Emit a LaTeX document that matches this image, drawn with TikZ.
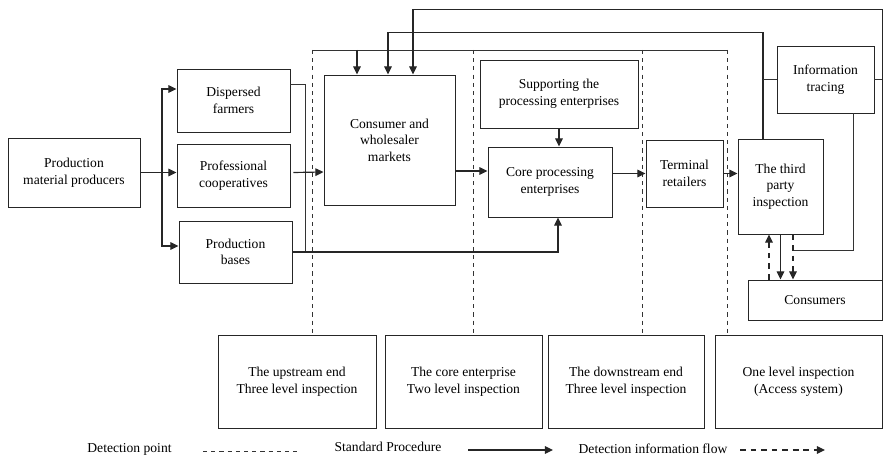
\documentclass[tikz,border=0pt]{standalone}
\usepackage{fontspec}
\setmainfont{Liberation Serif}
\usetikzlibrary{arrows.meta,calc}

\begin{document}
\begin{tikzpicture}[x=0.03cm, y=-0.03cm,
    font=\fontsize{11.6}{14.2}\selectfont,
    box/.style={draw=black!85, line width=0.8pt, align=center, inner sep=0pt},
    sz/.style 2 args={minimum width=#1*0.03cm, minimum height=#2*0.03cm},
    flow/.style={draw=black!85, line width=1pt, -{Triangle[length=7pt,width=6.5pt]}},
    link/.style={draw=black!80, line width=0.8pt},
    dpoint/.style={draw=black!80, line width=0.7pt, dash pattern=on 3.5pt off 3.5pt},
    dflow/.style={draw=black!85, line width=1pt, dash pattern=on 5pt off 4pt, -{Triangle[length=7pt,width=6.5pt]}}]
    \useasboundingbox (0,0) rectangle (883,456);

    % Upstream boxes
    \node[box, sz={132}{69}] (prod) at (74,172.5) {Production\\material producers};
    \node[box, sz={113}{63}] (farm) at (233.5,100.5) {Dispersed\\farmers};
    \node[box, sz={113}{63}] (coop) at (233.5,175.5) {Professional\\cooperatives};
    \node[box, sz={113}{62}] (base) at (235.5,252) {Production\\bases};

    % Enterprises and markets
    \node[box, sz={131}{130}] (market) at (389.5,140) {Consumer and\\wholesaler\\markets};
    \node[box, sz={158}{68}] (support) at (559,94) {Supporting the\\processing enterprises};
    \node[box, sz={124}{70}] (core) at (550,182) {Core processing\\enterprises};
    \node[box, sz={77}{67}] (retail) at (684.5,173.5) {Terminal\\retailers};
    \node[box, sz={85}{95}] (third) at (780.5,186.5) {The third\\party\\inspection};
    \node[box, sz={97}{67}] (trace) at (825.5,79.5) {Information\\tracing};
    \node[box, sz={134}{40}] (consumer) at (815,300) {Consumers};

    % Inspection levels
    \node[box, sz={158}{93}] (up) at (297,381.5) {The upstream end\\Three level inspection};
    \node[box, sz={157}{93}] (coreE) at (463.5,381.5) {The core enterprise\\Two level inspection};
    \node[box, sz={156}{93}] (down) at (626,381.5) {The downstream end\\Three level inspection};
    \node[box, sz={167}{93}] (one) at (798.5,381.5) {One level inspection\\(Access system)};

    % Detection points
    \coordinate (f1) at (312,50);
    \coordinate (f2) at (473,50);
    \coordinate (f3) at (642,50);
    \coordinate (f4) at (727,50);
    \draw[link] (f1) -- (f4);
    \foreach \i/\b in {1/up, 2/coreE, 3/down, 4/one}
        \draw[dpoint] (f\i) -- (f\i |- \b.north);

    % Standard procedure
    \coordinate (split) at (162,172.5);
    \draw[flow] (prod.east) -- (prod.east -| coop.west);
    \draw[flow] (split) |- ($(farm.west)+(0,-11.5)$);
    \draw[flow] (split) |- ($(base.west)+(0,-6)$);
    \coordinate (join) at (305,252);
    \draw[link] ($(farm.east)+(0,-16.5)$) -| (join);
    \draw[flow] (base.east) -- (join) -| ($(core.south)+(8,0)$);
    \draw[flow] ($(coop.east)+(3,-3)$) -- ($(market.west)+(0,32)$);
    \coordinate (m2c) at ($(core.west)+(0,-11)$);
    \draw[flow] (m2c -| market.east) -- (m2c);
    \draw[flow] (support.south) -- (support.south |- core.north);
    \draw[flow] (core.east |- retail.west) -- (retail.west);
    \draw[flow] (retail.east) -- (retail.east -| third.west);
    \coordinate (fm) at ($(f1)+(45,0)$);
    \draw[flow] (fm) -- (fm |- market.north);

    % Feedback to the markets
    \draw[flow] ($(third.north)+(-17.5,0)$) -- ++(0,-106) -| ($(market.north)+(-1.5,0)$);
    \draw[link] (trace.west) -- ++(-14,0);
    \draw[flow] (consumer.north east) -- ++(0,-270) -| ($(market.north)+(23.5,0)$);
    \draw[link] (trace.east) -- ++(8,0);

    % Third party and consumers
    \coordinate (dq) at ($(third.south)+(12.5,0)$);
    \coordinate (du) at ($(consumer.north)+(-46,0)$);
    \coordinate (tj) at ($(dq)+(0,16)$);
    \draw[link] ($(trace.south)+(27.5,0)$) |- (tj);
    \draw[flow] (third.south) -- (third.south |- consumer.north);
    \draw[dflow] (dq) -- (dq |- consumer.north);
    \draw[dflow] (du) -- (du |- third.south);

    % Legend
    \node (lgdp) at (129.5,449) {Detection point};
    \coordinate (lgd1) at (203,451);
    \coordinate (lgd2) at (297,451);
    \draw[dpoint] (lgd1) -- (lgd2);
    \node (lgsp) at (388,447) {Standard Procedure};
    \coordinate (lgs1) at (468,450);
    \coordinate (lgs2) at (553,450);
    \draw[flow] (lgs1) -- (lgs2);
    \node (lgdf) at (653,449) {Detection information flow};
    \coordinate (lgf1) at (740,450);
    \coordinate (lgf2) at (825,450);
    \draw[dflow] (lgf1) -- (lgf2);
\end{tikzpicture}
\end{document}
